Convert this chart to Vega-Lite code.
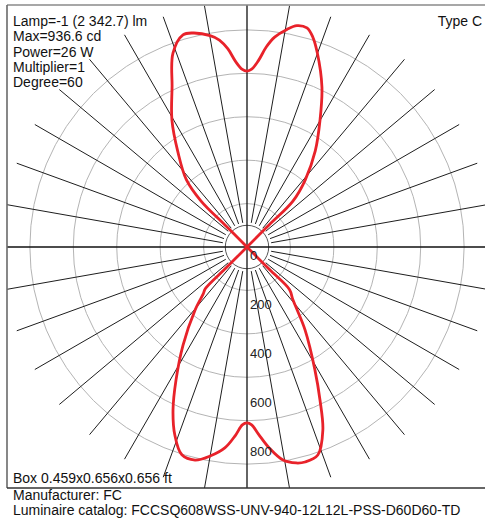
{
  "$schema": "https://vega.github.io/schema/vega-lite/v6.json",
  "width": 478,
  "height": 483,
  "padding": {"left": 7, "top": 5, "right": 0, "bottom": 34},
  "autosize": {"type": "none"},
  "config": {"view": {"stroke": null}, "text": {"font": "Liberation Sans"}},
  "layer": [
    {
      "data": {"values": [{"cd": 200}, {"cd": 400}, {"cd": 600}, {"cd": 800}, {"cd": 1000}]},
      "mark": {"type": "point", "shape": "circle", "filled": false, "stroke": "#b4b4b4", "strokeWidth": 1, "opacity": 1, "clip": true},
      "encoding": {
        "x": {"datum": 0, "type": "quantitative", "scale": {"domain": [-979.59, 971.43], "nice": false, "zero": false}, "axis": null},
        "y": {"datum": 0, "type": "quantitative", "scale": {"domain": [-983.67, 987.76], "nice": false, "zero": false}, "axis": null},
        "size": {"field": "cd", "type": "quantitative", "scale": {"type": "pow", "exponent": 2, "domain": [0, 1000], "range": [0, 188574]}, "legend": null}
      }
    },
    {
      "data": {"values": [{"cd": 100}]},
      "mark": {"type": "point", "shape": "circle", "filled": false, "stroke": "#555555", "strokeWidth": 1, "opacity": 1, "clip": true},
      "encoding": {
        "x": {"datum": 0, "type": "quantitative", "scale": {"domain": [-979.59, 971.43], "nice": false, "zero": false}, "axis": null},
        "y": {"datum": 0, "type": "quantitative", "scale": {"domain": [-983.67, 987.76], "nice": false, "zero": false}, "axis": null},
        "size": {"field": "cd", "type": "quantitative", "scale": {"type": "pow", "exponent": 2, "domain": [0, 1000], "range": [0, 188574]}, "legend": null}
      }
    },
    {
      "data": {"values": [
        {"angle": 10}, {"angle": 20}, {"angle": 30}, {"angle": 40}, {"angle": 50}, {"angle": 60}, {"angle": 70}, {"angle": 80},
        {"angle": 100}, {"angle": 110}, {"angle": 120}, {"angle": 130}, {"angle": 140}, {"angle": 150}, {"angle": 160}, {"angle": 170},
        {"angle": 190}, {"angle": 200}, {"angle": 210}, {"angle": 220}, {"angle": 230}, {"angle": 240}, {"angle": 250}, {"angle": 260},
        {"angle": 280}, {"angle": 290}, {"angle": 300}, {"angle": 310}, {"angle": 320}, {"angle": 330}, {"angle": 340}, {"angle": 350}
      ]},
      "transform": [
        {"calculate": "100 * sin(datum.angle * PI / 180)", "as": "x1"},
        {"calculate": "100 * cos(datum.angle * PI / 180)", "as": "y1"},
        {"calculate": "1000 * sin(datum.angle * PI / 180)", "as": "x2"},
        {"calculate": "1000 * cos(datum.angle * PI / 180)", "as": "y2"}
      ],
      "mark": {"type": "rule", "stroke": "#1e1e1e", "strokeWidth": 1, "clip": true},
      "encoding": {
        "x": {"field": "x1", "type": "quantitative", "scale": {"domain": [-979.59, 971.43], "nice": false, "zero": false}, "axis": null},
        "y": {"field": "y1", "type": "quantitative", "scale": {"domain": [-983.67, 987.76], "nice": false, "zero": false}, "axis": null},
        "x2": {"field": "x2"},
        "y2": {"field": "y2"}
      }
    },
    {
      "data": {"values": [{"dir": "h"}]},
      "mark": {"type": "rule", "stroke": "#111111", "strokeWidth": 1.3},
      "encoding": {
        "x": {"datum": -979.59, "type": "quantitative", "scale": {"domain": [-979.59, 971.43], "nice": false, "zero": false}, "axis": null},
        "x2": {"datum": 971.43},
        "y": {"datum": 0, "type": "quantitative", "scale": {"domain": [-983.67, 987.76], "nice": false, "zero": false}, "axis": null}
      }
    },
    {
      "data": {"values": [{"dir": "v"}]},
      "mark": {"type": "rule", "stroke": "#111111", "strokeWidth": 1.3},
      "encoding": {
        "x": {"datum": 0, "type": "quantitative", "scale": {"domain": [-979.59, 971.43], "nice": false, "zero": false}, "axis": null},
        "y": {"datum": -983.67, "type": "quantitative", "scale": {"domain": [-983.67, 987.76], "nice": false, "zero": false}, "axis": null},
        "y2": {"datum": 987.76}
      }
    },
    {
      "data": {"values": [{"edge": "top"}]},
      "mark": {"type": "rule", "stroke": "#8a8a8a", "strokeWidth": 1.6},
      "encoding": {
        "x": {"datum": -979.59, "type": "quantitative", "scale": {"domain": [-979.59, 971.43], "nice": false, "zero": false}, "axis": null},
        "x2": {"datum": 971.43},
        "y": {"datum": 987.76, "type": "quantitative", "scale": {"domain": [-983.67, 987.76], "nice": false, "zero": false}, "axis": null}
      }
    },
    {
      "data": {"values": [{"edge": "left"}]},
      "mark": {"type": "rule", "stroke": "#6a6a6a", "strokeWidth": 1.6},
      "encoding": {
        "x": {"datum": -979.59, "type": "quantitative", "scale": {"domain": [-979.59, 971.43], "nice": false, "zero": false}, "axis": null},
        "y": {"datum": -983.67, "type": "quantitative", "scale": {"domain": [-983.67, 987.76], "nice": false, "zero": false}, "axis": null},
        "y2": {"datum": 987.76}
      }
    },
    {
      "data": {"values": [{"edge": "bottom"}]},
      "mark": {"type": "rule", "stroke": "#333333", "strokeWidth": 1.6},
      "encoding": {
        "x": {"datum": -979.59, "type": "quantitative", "scale": {"domain": [-979.59, 971.43], "nice": false, "zero": false}, "axis": null},
        "x2": {"datum": 971.43},
        "y": {"datum": -983.67, "type": "quantitative", "scale": {"domain": [-983.67, 987.76], "nice": false, "zero": false}, "axis": null}
      }
    },
    {
      "data": {"values": [
        {"lobe": "down", "seq": 1, "half": "right", "gamma": 45, "cd": 0},
        {"lobe": "down", "seq": 2, "half": "right", "gamma": 45, "cd": 130},
        {"lobe": "down", "seq": 3, "half": "right", "gamma": 45, "cd": 245},
        {"lobe": "down", "seq": 4, "half": "right", "gamma": 41.5, "cd": 280},
        {"lobe": "down", "seq": 5, "half": "right", "gamma": 39.5, "cd": 310},
        {"lobe": "down", "seq": 6, "half": "right", "gamma": 35, "cd": 413},
        {"lobe": "down", "seq": 7, "half": "right", "gamma": 28.9, "cd": 574},
        {"lobe": "down", "seq": 8, "half": "right", "gamma": 25.5, "cd": 692},
        {"lobe": "down", "seq": 9, "half": "right", "gamma": 22.5, "cd": 809},
        {"lobe": "down", "seq": 10, "half": "right", "gamma": 18.8, "cd": 897},
        {"lobe": "down", "seq": 11, "half": "right", "gamma": 15.1, "cd": 909},
        {"lobe": "down", "seq": 12, "half": "right", "gamma": 12.8, "cd": 904},
        {"lobe": "down", "seq": 13, "half": "right", "gamma": 9.6, "cd": 882},
        {"lobe": "down", "seq": 14, "half": "right", "gamma": 6.3, "cd": 825},
        {"lobe": "down", "seq": 15, "half": "right", "gamma": 3.5, "cd": 765},
        {"lobe": "down", "seq": 16, "half": "right", "gamma": 1.5, "cd": 726},
        {"lobe": "down", "seq": 17, "half": "right", "gamma": 0, "cd": 718},
        {"lobe": "down", "seq": 18, "half": "left", "gamma": 1.5, "cd": 726},
        {"lobe": "down", "seq": 19, "half": "left", "gamma": 3.5, "cd": 770},
        {"lobe": "down", "seq": 20, "half": "left", "gamma": 6.3, "cd": 825},
        {"lobe": "down", "seq": 21, "half": "left", "gamma": 10, "cd": 866},
        {"lobe": "down", "seq": 22, "half": "left", "gamma": 13.7, "cd": 895},
        {"lobe": "down", "seq": 23, "half": "left", "gamma": 17.4, "cd": 889},
        {"lobe": "down", "seq": 24, "half": "left", "gamma": 21, "cd": 822},
        {"lobe": "down", "seq": 25, "half": "left", "gamma": 24.4, "cd": 731},
        {"lobe": "down", "seq": 26, "half": "left", "gamma": 28.1, "cd": 615},
        {"lobe": "down", "seq": 27, "half": "left", "gamma": 33.1, "cd": 478},
        {"lobe": "down", "seq": 28, "half": "left", "gamma": 39.5, "cd": 333},
        {"lobe": "down", "seq": 29, "half": "left", "gamma": 43, "cd": 262},
        {"lobe": "down", "seq": 30, "half": "left", "gamma": 45, "cd": 240},
        {"lobe": "down", "seq": 31, "half": "left", "gamma": 45, "cd": 120},
        {"lobe": "down", "seq": 32, "half": "left", "gamma": 45, "cd": 0},
        {"lobe": "up", "seq": 1, "half": "right", "gamma": 135, "cd": 0},
        {"lobe": "up", "seq": 2, "half": "right", "gamma": 135, "cd": 130},
        {"lobe": "up", "seq": 3, "half": "right", "gamma": 135, "cd": 265},
        {"lobe": "up", "seq": 4, "half": "right", "gamma": 139, "cd": 362},
        {"lobe": "up", "seq": 5, "half": "right", "gamma": 144.6, "cd": 481},
        {"lobe": "up", "seq": 6, "half": "right", "gamma": 150.1, "cd": 598},
        {"lobe": "up", "seq": 7, "half": "right", "gamma": 154.9, "cd": 721},
        {"lobe": "up", "seq": 8, "half": "right", "gamma": 160.1, "cd": 843},
        {"lobe": "up", "seq": 9, "half": "right", "gamma": 162.6, "cd": 898},
        {"lobe": "up", "seq": 10, "half": "right", "gamma": 164.7, "cd": 927},
        {"lobe": "up", "seq": 11, "half": "right", "gamma": 167.3, "cd": 926},
        {"lobe": "up", "seq": 12, "half": "right", "gamma": 169.6, "cd": 903},
        {"lobe": "up", "seq": 13, "half": "right", "gamma": 172.5, "cd": 864},
        {"lobe": "up", "seq": 14, "half": "right", "gamma": 174.5, "cd": 820},
        {"lobe": "up", "seq": 15, "half": "right", "gamma": 176.5, "cd": 762},
        {"lobe": "up", "seq": 16, "half": "right", "gamma": 178.5, "cd": 726},
        {"lobe": "up", "seq": 17, "half": "right", "gamma": 180, "cd": 718},
        {"lobe": "up", "seq": 18, "half": "left", "gamma": 178.5, "cd": 725},
        {"lobe": "up", "seq": 19, "half": "left", "gamma": 176.5, "cd": 758},
        {"lobe": "up", "seq": 20, "half": "left", "gamma": 174.5, "cd": 812},
        {"lobe": "up", "seq": 21, "half": "left", "gamma": 172.4, "cd": 852},
        {"lobe": "up", "seq": 22, "half": "left", "gamma": 170.1, "cd": 876},
        {"lobe": "up", "seq": 23, "half": "left", "gamma": 165.8, "cd": 901},
        {"lobe": "up", "seq": 24, "half": "left", "gamma": 163.2, "cd": 904},
        {"lobe": "up", "seq": 25, "half": "left", "gamma": 159.1, "cd": 847},
        {"lobe": "up", "seq": 26, "half": "left", "gamma": 154.9, "cd": 721},
        {"lobe": "up", "seq": 27, "half": "left", "gamma": 149.4, "cd": 602},
        {"lobe": "up", "seq": 28, "half": "left", "gamma": 144, "cd": 480},
        {"lobe": "up", "seq": 29, "half": "left", "gamma": 138, "cd": 370},
        {"lobe": "up", "seq": 30, "half": "left", "gamma": 135, "cd": 265},
        {"lobe": "up", "seq": 31, "half": "left", "gamma": 135, "cd": 130},
        {"lobe": "up", "seq": 32, "half": "left", "gamma": 135, "cd": 0}
      ]},
      "transform": [
        {"calculate": "(datum.half === 'right' ? 1 : -1) * datum.cd * sin(datum.gamma * PI / 180)", "as": "px"},
        {"calculate": "-datum.cd * cos(datum.gamma * PI / 180)", "as": "py"}
      ],
      "mark": {"type": "line", "stroke": "#e8222a", "strokeWidth": 2.8, "interpolate": "catmull-rom", "clip": true},
      "encoding": {
        "x": {"field": "px", "type": "quantitative", "scale": {"domain": [-979.59, 971.43], "nice": false, "zero": false}, "axis": null},
        "y": {"field": "py", "type": "quantitative", "scale": {"domain": [-983.67, 987.76], "nice": false, "zero": false}, "axis": null},
        "order": {"field": "seq", "type": "quantitative"},
        "detail": {"field": "lobe"}
      }
    },
    {
      "data": {"values": [{"cd": 0, "label": "0"}, {"cd": 200, "label": "200"}, {"cd": 400, "label": "400"}, {"cd": 600, "label": "600"}, {"cd": 800, "label": "800"}]},
      "transform": [{"calculate": "-datum.cd", "as": "ly"}],
      "mark": {"type": "text", "align": "left", "baseline": "alphabetic", "dx": 3, "dy": 13, "fontSize": 13, "fill": "#222222"},
      "encoding": {
        "x": {"datum": 0, "type": "quantitative", "scale": {"domain": [-979.59, 971.43], "nice": false, "zero": false}, "axis": null},
        "y": {"field": "ly", "type": "quantitative", "scale": {"domain": [-983.67, 987.76], "nice": false, "zero": false}, "axis": null},
        "text": {"field": "label"}
      }
    },
    {
      "data": {"values": [{"t": "info"}]},
      "mark": {"type": "text", "align": "left", "baseline": "alphabetic", "fontSize": 14, "lineHeight": 15.3, "lineBreak": "\n", "fill": "#111111"},
      "encoding": {
        "x": {"datum": -955.1, "type": "quantitative", "scale": {"domain": [-979.59, 971.43], "nice": false, "zero": false}, "axis": null},
        "y": {"datum": 902, "type": "quantitative", "scale": {"domain": [-983.67, 987.76], "nice": false, "zero": false}, "axis": null},
        "text": {"value": "Lamp=-1 (2 342.7) lm\nMax=936.6 cd\nPower=26 W\nMultiplier=1\nDegree=60"}
      }
    },
    {
      "data": {"values": [{"t": "type"}]},
      "mark": {"type": "text", "align": "right", "baseline": "alphabetic", "fontSize": 14, "fill": "#111111"},
      "encoding": {
        "x": {"datum": 959.2, "type": "quantitative", "scale": {"domain": [-979.59, 971.43], "nice": false, "zero": false}, "axis": null},
        "y": {"datum": 902, "type": "quantitative", "scale": {"domain": [-983.67, 987.76], "nice": false, "zero": false}, "axis": null},
        "text": {"value": "Type C"}
      }
    },
    {
      "data": {"values": [{"t": "box"}]},
      "mark": {"type": "text", "align": "left", "baseline": "alphabetic", "fontSize": 14, "fill": "#111111"},
      "encoding": {
        "x": {"datum": -955.1, "type": "quantitative", "scale": {"domain": [-979.59, 971.43], "nice": false, "zero": false}, "axis": null},
        "y": {"datum": -963.3, "type": "quantitative", "scale": {"domain": [-983.67, 987.76], "nice": false, "zero": false}, "axis": null},
        "text": {"value": "Box 0.459x0.656x0.656 ft"}
      }
    },
    {
      "data": {"values": [{"t": "foot"}]},
      "mark": {"type": "text", "align": "left", "baseline": "alphabetic", "fontSize": 14, "lineHeight": 15.3, "lineBreak": "\n", "fill": "#111111"},
      "encoding": {
        "x": {"datum": -955.1, "type": "quantitative", "scale": {"domain": [-979.59, 971.43], "nice": false, "zero": false}, "axis": null},
        "y": {"datum": -1032.7, "type": "quantitative", "scale": {"domain": [-983.67, 987.76], "nice": false, "zero": false}, "axis": null},
        "text": {"value": "Manufacturer: FC\nLuminaire catalog: FCCSQ608WSS-UNV-940-12L12L-PSS-D60D60-TD"}
      }
    }
  ]
}
